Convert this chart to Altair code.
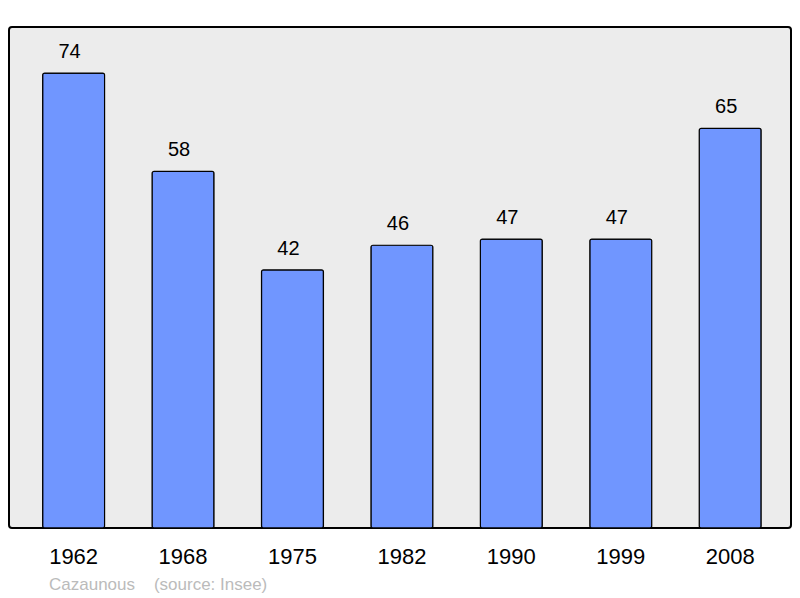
import altair as alt
import pandas as pd

years = ["1962", "1968", "1975", "1982", "1990", "1999", "2008"]
population = [74, 58, 42, 46, 47, 47, 65]

df = pd.DataFrame({"year": years, "pop": population})

FONT = "Liberation Sans"

x = alt.X("year:N", sort=years, title=None,
          scale=alt.Scale(paddingInner=0.434, paddingOuter=0.29, align=0.53),
          axis=alt.Axis(labelFontSize=22, labelFont=FONT, labelColor="#000",
                        labelPadding=18, ticks=False, domain=False, labelAngle=0))
y = alt.Y("pop:Q", title=None, scale=alt.Scale(domain=[0, 81.5], nice=False, zero=True),
          axis=None)

bars = alt.Chart(df).mark_bar(color="#7096ff", stroke="#000", strokeWidth=1.2,
                              cornerRadius=2).encode(x=x, y=y)
labels = alt.Chart(df).mark_text(fontSize=20, font=FONT, color="#000", dy=-15, dx=-4,
                                 baseline="alphabetic").encode(x=x, y=y, text="pop:Q")

chart = (bars + labels).properties(
    width=782, height=501,
    padding={"left": 1, "top": 19, "right": 1, "bottom": 75},
    autosize=alt.AutoSizeParams(type="none"),
    background="white",
    title=alt.TitleParams(
        text="Cazaunous\u00a0\u00a0\u00a0\u00a0(source: Insee)",
        orient="bottom", anchor="start", frame="group", dx=40, offset=10,
        fontSize=17, font=FONT, fontWeight="normal", color="#bbbbbb"),
).configure_view(
    fill="#ececec", stroke="#000", strokeWidth=2, cornerRadius=3
)

chart.save("out.html", embed_options={"renderer": "svg", "actions": False})
